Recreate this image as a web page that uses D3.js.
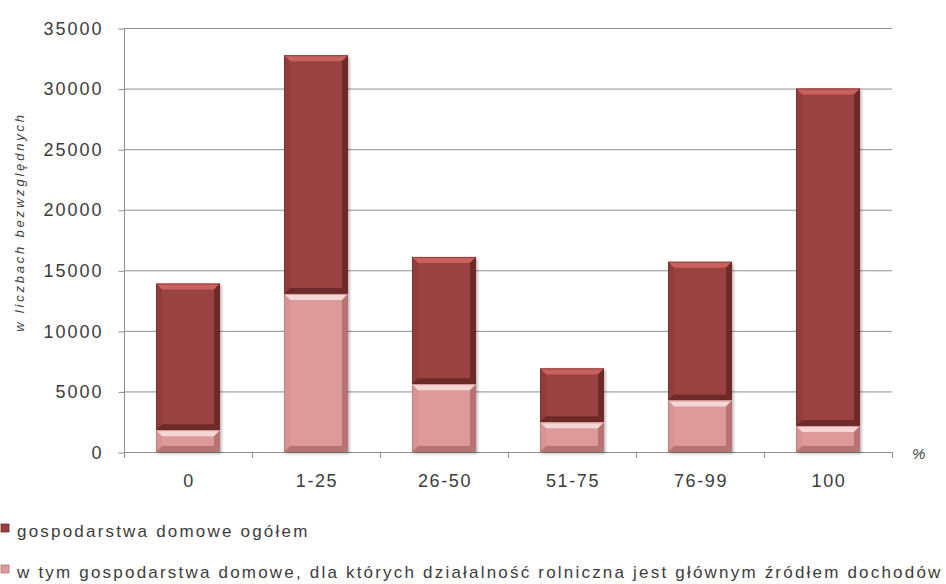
<!DOCTYPE html>
<html>
<head>
	<script src="https://cdn.jsdelivr.net/npm/d3@7"></script>
	<style>
		html, body { padding: 0; margin: 0; background: white; }
		svg text { font-family: "Liberation Sans", Arial, sans-serif; fill: #3c3c3c; }
	</style>
</head>
<body>
	<div id="chart"></div>
	<script>
		// udział dochodów z działalności rolniczej, %
		var categories = ["0", "1-25", "26-50", "51-75", "76-99", "100"];
		var totals = [13900, 32750, 16100, 6900, 15700, 30000];
		var mainIncome = [1800, 13050, 5600, 2450, 4250, 2150];
		var yTicks = [0, 5000, 10000, 15000, 20000, 25000, 30000, 35000];
		var seriesNames = ["gospodarstwa domowe ogółem",
			"w tym gospodarstwa domowe, dla których działalność rolniczna jest głównym źródłem dochodów"];

		var width = 946, height = 584;
		var m = {left: 124, right: 54, top: 28, bottom: 132};

		var svg = d3.select("#chart").append("svg")
			.attr("width", width).attr("height", height);

		var x = d3.scaleBand().domain(categories)
			.range([m.left, width - m.right]).paddingInner(0.5).paddingOuter(0.25);
		var y = d3.scaleLinear().domain([0, 35000]).range([height - m.bottom, m.top]);

		var grid = "#8e8e8e";

		// gridlines
		svg.append("g").selectAll("line").data(yTicks.slice(1)).enter().append("line")
			.attr("x1", m.left).attr("x2", width - m.right)
			.attr("y1", function(d) { return y(d) + 0.5; })
			.attr("y2", function(d) { return y(d) + 0.5; })
			.attr("stroke", grid).attr("stroke-width", 1);

		// y axis
		var yAxis = svg.append("g").attr("transform", "translate(" + (m.left + 0.5) + ",0.5)")
			.call(d3.axisLeft(y).tickValues(yTicks).tickSize(6).tickPadding(15).tickFormat(d3.format("d")));
		yAxis.selectAll("path, line").attr("stroke", grid);
		yAxis.select(".domain").attr("d", "M0," + y(0) + "V" + y(35000));
		yAxis.selectAll("text").style("font-size", "18px").style("letter-spacing", "2px")
			.attr("fill", "#3c3c3c").attr("font-family", null);

		// x axis: ticks on band boundaries
		var x0 = m.left, step = x.step();
		var xg = svg.append("g");
		xg.append("line").attr("x1", m.left).attr("x2", width - m.right)
			.attr("y1", y(0) + 0.5).attr("y2", y(0) + 0.5).attr("stroke", grid);
		xg.selectAll("line.tk").data(d3.range(categories.length + 1)).enter().append("line")
			.attr("class", "tk")
			.attr("x1", function(i) { return x0 + i * step + 0.5; })
			.attr("x2", function(i) { return x0 + i * step + 0.5; })
			.attr("y1", y(0)).attr("y2", y(0) + 6).attr("stroke", grid);
		xg.selectAll("text").data(categories).enter().append("text")
			.attr("x", function(d) { return x(d) + x.bandwidth() / 2 + 1; })
			.attr("y", y(0) + 35)
			.attr("text-anchor", "middle")
			.style("font-size", "18px").style("letter-spacing", "1.6px")
			.text(function(d) { return d; });

		svg.append("text").attr("x", 912).attr("y", y(0) + 7)
			.style("font-size", "15px").style("font-style", "italic").text("%");

		// y axis title
		svg.append("text")
			.attr("transform", "translate(24," + 222 + ") rotate(-90)")
			.attr("text-anchor", "middle")
			.style("font-size", "13px").style("font-style", "italic").style("letter-spacing", "2.8px")
			.text("w liczbach bezwzględnych");

		// bevelled bars (Excel look)
		var defs = svg.append("defs");
		var f = defs.append("filter").attr("id", "sh").attr("x", "-10%").attr("y", "-10%")
			.attr("width", "130%").attr("height", "130%");
		f.append("feDropShadow").attr("dx", 1.5).attr("dy", 1.5).attr("stdDeviation", 1.5)
			.attr("flood-color", "#000").attr("flood-opacity", 0.3);

		function bevelBar(g, x1, y1, w, h, base, light, dark, edge) {
			var b = Math.min(6, h / 3);
			g.append("rect").attr("x", x1).attr("y", y1).attr("width", w).attr("height", h)
				.attr("fill", base).attr("filter", "url(#sh)");
			// top bevel
			g.append("polygon").attr("points", [[x1, y1], [x1 + w, y1], [x1 + w - b, y1 + b], [x1 + b, y1 + b]].join(" "))
				.attr("fill", light);
			// left
			g.append("polygon").attr("points", [[x1, y1], [x1 + b, y1 + b], [x1 + b, y1 + h - b], [x1, y1 + h]].join(" "))
				.attr("fill", edge).attr("opacity", 0.9);
			// right
			g.append("polygon").attr("points", [[x1 + w, y1], [x1 + w - b, y1 + b], [x1 + w - b, y1 + h - b], [x1 + w, y1 + h]].join(" "))
				.attr("fill", dark);
			// bottom
			g.append("polygon").attr("points", [[x1, y1 + h], [x1 + b, y1 + h - b], [x1 + w - b, y1 + h - b], [x1 + w, y1 + h]].join(" "))
				.attr("fill", dark);
			g.append("rect").attr("x", x1 + 0.5).attr("y", y1 + 0.5).attr("width", w - 1).attr("height", h - 1)
				.attr("fill", "none").attr("stroke", dark).attr("stroke-opacity", 0.6);
		}

		var bars = svg.append("g");
		categories.forEach(function(c, i) {
			var bx = x(c), bw = x.bandwidth();
			bevelBar(bars.append("g"), bx, y(totals[i]), bw, y(mainIncome[i]) - y(totals[i]),
				"#9a4240", "#c9615e", "#6e2a29", "#8f3c3a");
			bevelBar(bars.append("g"), bx, y(mainIncome[i]), bw, y(0) - y(mainIncome[i]),
				"#dc9b9a", "#f6d6d5", "#b57473", "#d69493");
		});

		// legend
		var legColors = ["#9a4240", "#dc9b9a"];
		var leg = svg.append("g").selectAll("g").data(seriesNames).enter().append("g")
			.attr("transform", function(d, i) { return "translate(1," + (524 + i * 41) + ")"; });
		leg.append("rect").attr("width", 8).attr("height", 8)
			.attr("fill", function(d, i) { return legColors[i]; })
			.attr("stroke", function(d, i) { return i ? "#b57473" : "#6e2a29"; }).attr("stroke-width", 0.8);
		leg.append("text").attr("x", 16).attr("y", 13)
			.style("font-size", "17px").style("letter-spacing", "2.2px")
			.text(function(d) { return d; });
	</script>
</body>
</html>
